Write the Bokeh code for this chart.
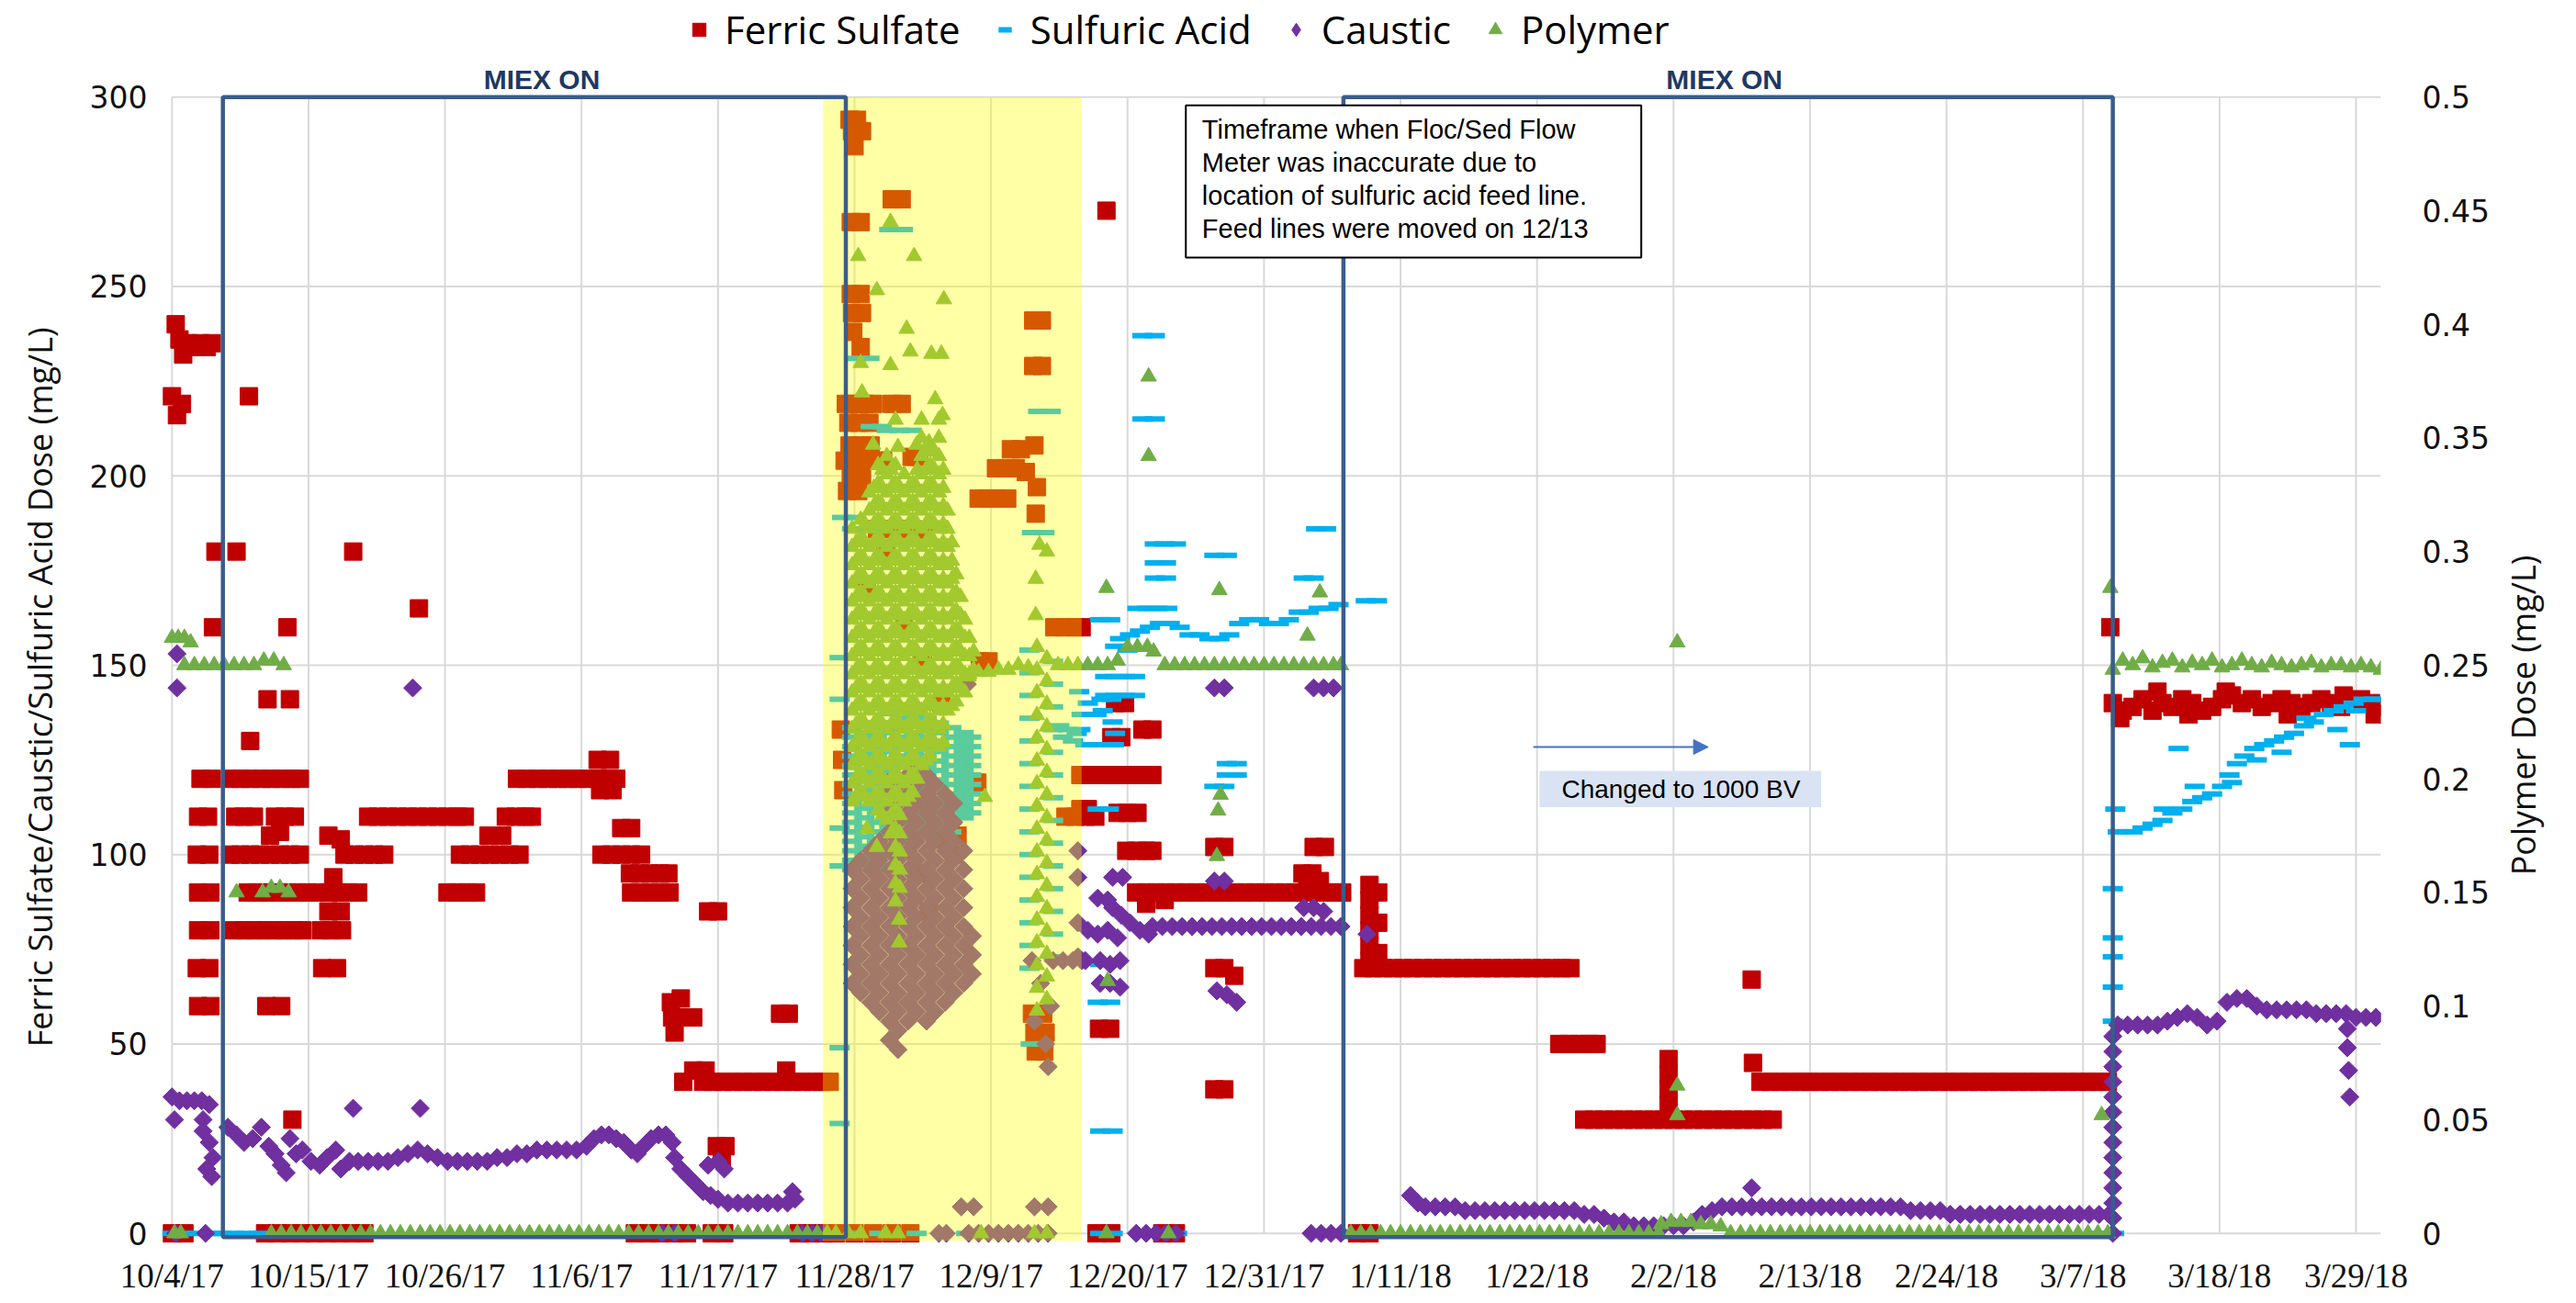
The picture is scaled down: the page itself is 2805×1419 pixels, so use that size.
import math
from bokeh.plotting import figure
from bokeh.models import (Range1d, LinearAxis, FixedTicker, BoxAnnotation, Label,
                          Legend, LegendItem, Arrow, NormalHead)
from bokeh.embed import file_html
from bokeh.resources import INLINE

# ---------------- axis ticks (x = days since 10/4/17) ----------------
X_TICK_DAYS = [0, 11, 22, 33, 44, 55, 66, 77, 88, 99, 110, 121, 132, 143, 154, 165, 176]
X_TICK_LABELS = ["10/4/17", "10/15/17", "10/26/17", "11/6/17", "11/17/17", "11/28/17",
                 "12/9/17", "12/20/17", "12/31/17", "1/11/18", "1/22/18", "2/2/18",
                 "2/13/18", "2/24/18", "3/7/18", "3/18/18", "3/29/18"]
X_END_DAY = 178.0
LEFT_TICKS = [0, 50, 100, 150, 200, 250, 300]
RIGHT_TICKS = [0, 0.05, 0.1, 0.15, 0.2, 0.25, 0.3, 0.35, 0.4, 0.45, 0.5]
RIGHT_TICK_LABELS = ["0", "0.05", "0.1", "0.15", "0.2", "0.25", "0.3", "0.35", "0.4", "0.45", "0.5"]
LEFT_TITLE = "Ferric Sulfate/Caustic/Sulfuric Acid Dose (mg/L)"
RIGHT_TITLE = "Polymer Dose (mg/L)"
LEGEND_LABELS = ["Ferric Sulfate", "Sulfuric Acid", "Caustic", "Polymer"]

# periods (days since 10/4/17)
MIEX_PERIODS = [(4.1, 54.3), (94.4, 156.4)]
MIEX_LABEL_DAYS = [29.8, 125.1]
INACCURATE_PERIOD = (52.45, 73.3)

# ---------------- Ferric sulfate (mg/L) ----------------
FERRIC_OCT = [(0.0, 221), (0.4, 216), (0.8, 219), (0.3, 240), (0.6, 236), (0.9, 232), (1.3, 235),
              (1.8, 234), (2.3, 235), (2.8, 234), (3.2, 235), (6.2, 221), (3.5, 180), (5.2, 180),
              (14.6, 180), (19.9, 165), (3.3, 160), (9.3, 160), (7.7, 141), (9.5, 141), (6.3, 130),
              (13.0, 94), (12.6, 85), (13.6, 85), (9.7, 30), (8.7, 106), (7.9, 105), (12.6, 105), (13.6, 104)]
FERRIC_RUNS = [
    (120, [2.3, 3.2, 4.7, 5.5, 6.3, 7.2, 8.0, 8.8, 9.6, 10.3, 27.8, 28.6, 29.5, 30.3, 31.1, 31.9,
           32.7, 33.5, 34.3, 35.1, 35.8]),
    (110, [2.1, 2.9, 5.1, 5.8, 6.6, 8.3, 9.1, 9.9, 15.8, 16.6, 17.4, 18.2, 19.0, 19.8, 20.6, 21.4,
           22.2, 23.0, 23.6, 26.9, 27.7, 28.5, 29.0]),
    (100, [2.0, 3.0, 4.7, 5.5, 6.3, 7.1, 7.9, 8.7, 9.5, 10.3, 13.9, 14.7, 15.5, 16.3, 17.1, 23.2,
           24.0, 24.8, 25.6, 26.4, 27.2, 28.0, 34.6, 35.4, 36.2, 37.0, 37.8]),
    (105, [25.5, 26.6]),
    (90, [2.1, 3.1, 6.1, 6.9, 7.7, 8.5, 9.3, 10.1, 10.9, 11.7, 12.6, 13.4, 14.2, 15.0, 22.2, 23.0,
          23.8, 24.5, 37.0, 37.8, 38.6, 39.4, 40.1]),
    (80, [2.1, 3.1, 5.0, 5.8, 6.6, 7.4, 8.2, 9.0, 9.8, 10.5, 12.0, 12.8, 13.7]),
    (70, [2.0, 3.0, 12.1, 13.3]),
    (60, [2.1, 3.1, 7.6, 8.8]),
    (0, [0.0, 1.0, 7.5, 8.5, 9.5, 10.5, 11.5, 12.5, 13.5, 14.5, 15.5, 37.3, 38.3, 39.3, 40.5, 41.5,
         43.5, 44.5, 50.5, 51.5, 52.5, 53.5, 55.0, 56.5, 58.0, 59.5, 74.5, 75.7, 79.8, 80.9, 95.5, 96.5]),
    (125, [34.3, 35.3]),
    (117, [34.5, 35.5]),
    (107, [36.2, 37.0]),
    (95, [36.9, 37.7, 38.5, 39.3, 40.0]),
    (40, [41.2, 42.8, 43.6, 44.4, 45.2, 46.0, 46.8, 47.6, 48.4, 49.2, 50.0, 50.8, 51.6, 52.4, 53.0,
          128.0, 128.8, 129.6, 130.4, 131.2, 132.0, 132.8, 133.6, 134.4, 135.2, 136.0, 136.8, 137.6,
          138.4, 139.2, 140.0, 140.8, 141.6, 142.4, 143.2, 144.0, 144.8, 145.6, 146.4, 147.2, 148.0,
          148.8, 149.6, 150.4, 151.2, 152.0, 152.8, 153.6, 154.4, 155.2, 156.0]),
    (43, [42.0, 43.0, 49.5]),
    (90, [77.7, 78.5, 79.3, 80.1, 80.9, 81.7, 82.5, 83.3, 84.1, 84.9, 85.7, 86.5, 87.3, 88.1, 88.9,
          89.7, 90.5, 91.3, 92.1, 92.9, 93.7, 94.3]),
    (70, [96.0, 96.8, 97.6, 98.4, 99.2, 100.0, 100.8, 101.6, 102.4, 103.2, 104.0, 104.8, 105.6, 106.4,
          107.2, 108.0, 108.8, 109.6, 110.4, 111.2, 112.0, 112.7]),
    (50, [111.8, 112.6, 113.4, 114.2, 114.8]),
    (30, [113.8, 114.6, 115.4, 116.2, 117.0, 117.8, 118.6, 119.4, 120.2, 121.0, 121.8, 122.6, 123.4,
          124.2, 125.0, 125.8, 126.6, 127.4, 128.2, 129.0]),
]
FERRIC_NOV = [(40.2, 61), (41.0, 62), (40.3, 57), (41.2, 57), (42.0, 57), (40.5, 53), (49.0, 58),
              (49.7, 58), (43.2, 85), (44.0, 85), (43.9, 23), (44.6, 23), (44.3, 20)]
FERRIC_DEC = [(54.6, 294), (55.2, 294), (54.8, 291), (55.6, 291), (55.0, 287), (54.7, 267), (55.5, 267),
              (58.0, 273), (58.8, 273), (54.7, 248), (55.5, 248), (54.8, 243), (55.6, 243), (54.9, 238),
              (55.5, 234), (54.3, 219), (55.0, 219), (55.8, 219), (56.5, 219), (58.0, 219), (58.8, 219),
              (54.5, 214), (55.4, 214), (56.2, 214), (54.6, 208), (55.5, 208), (56.3, 208), (54.2, 204),
              (55.0, 204), (55.9, 204), (56.7, 204), (57.3, 204), (59.6, 205), (60.2, 205), (54.7, 200),
              (55.6, 200), (54.4, 196), (55.3, 196), (65.0, 194), (65.7, 194), (66.5, 194), (67.3, 194),
              (66.4, 202), (67.2, 202), (68.0, 202), (68.8, 201), (67.6, 207), (68.4, 207), (69.4, 241),
              (70.1, 241), (69.4, 229), (70.1, 229), (69.5, 208), (69.7, 197), (69.6, 190), (71.1, 160),
              (71.9, 160), (72.7, 160), (73.3, 160), (65.1, 151), (65.8, 151), (64.4, 119), (64.9, 119),
              (62.0, 113), (62.8, 113), (62.4, 105), (63.3, 105), (72.0, 110), (72.8, 110), (73.6, 110),
              (74.4, 110), (69.3, 58), (70.2, 58), (69.5, 53), (70.4, 53), (69.6, 48), (70.3, 48),
              (53.9, 133), (54.0, 125), (54.1, 117), (56.8, 186), (58.2, 186), (59.6, 186), (60.6, 184),
              (62.0, 104), (56.0, 170), (57.5, 180), (59.0, 160), (60.5, 150), (62.0, 140), (58.0, 120),
              (60.0, 95), (61.0, 85), (63.0, 100)]
FERRIC_JAN = [(75.3, 270), (76.0, 140), (76.8, 140), (78.2, 133), (79.0, 133), (75.7, 131), (76.5, 131),
              (73.2, 121), (74.0, 121), (74.8, 121), (75.6, 121), (76.4, 121), (77.0, 121), (78.2, 121),
              (79.0, 121), (73.2, 112), (73.8, 112), (76.2, 111), (77.0, 111), (77.8, 111), (76.9, 101),
              (77.7, 101), (78.5, 101), (79.0, 101), (84.0, 102), (84.8, 102), (92.0, 102), (92.9, 102),
              (91.1, 95), (91.9, 95), (78.5, 87), (80.0, 88), (91.5, 93), (92.5, 93), (84.0, 70),
              (84.8, 70), (85.6, 68), (74.7, 54), (75.6, 54), (84.0, 38), (84.8, 38)]
FERRIC_MAR = [(96.5, 92), (96.5, 88), (96.5, 84), (96.5, 80), (96.5, 76), (96.5, 72), (97.2, 90),
              (97.2, 82), (97.2, 74), (120.6, 46), (120.6, 42), (120.6, 38), (120.6, 34), (127.3, 67),
              (127.4, 45), (156.2, 160), (156.4, 140), (157.2, 138), (158.0, 139), (158.8, 141),
              (159.6, 138), (160.4, 140), (161.2, 139), (162.0, 141), (162.8, 140), (163.6, 138),
              (164.4, 139), (165.2, 141), (166.0, 142), (166.8, 140), (167.6, 141), (168.4, 139),
              (169.2, 140), (170.0, 141), (170.8, 140), (171.6, 139), (172.4, 140), (173.2, 141),
              (174.0, 140), (174.8, 139), (175.6, 140), (176.4, 141), (177.2, 140), (178.0, 139),
              (157.0, 136), (160.0, 143), (162.5, 137), (165.5, 143), (170.5, 137), (175.0, 142), (177.5, 137)]

# ---------------- Sulfuric acid (mg/L) ----------------
SULF_POINTS = [(0.0, 0), (1.0, 0), (2.0, 0), (3.0, 0), (4.0, 0), (5.0, 0), (6.0, 0), (7.0, 0),
               (57.8, 265), (58.9, 265), (55.2, 231), (56.2, 231), (56.3, 213), (57.2, 213), (57.6, 212),
               (58.6, 212), (59.6, 212), (57.2, 197), (58.2, 197), (59.2, 197), (60.0, 197), (54.0, 189),
               (55.0, 189), (54.8, 186), (55.8, 186), (56.4, 186), (53.8, 152), (53.8, 141), (53.8, 107),
               (53.8, 97), (53.8, 49), (53.8, 29), (69.8, 217), (70.8, 217), (69.3, 185), (70.3, 185),
               (71.5, 134), (72.2, 133), (72.9, 132), (71.8, 131), (72.6, 130), (69.2, 50), (70.1, 50),
               (55.0, 0), (57.0, 0), (60.0, 0), (64.0, 0), (69.0, 0),
               (74.8, 162), (75.6, 162), (74.9, 141), (75.7, 141), (73.6, 129), (74.4, 129), (75.2, 129),
               (75.9, 129), (74.6, 112), (75.5, 112), (73.1, 143), (73.3, 137), (73.8, 140), (74.5, 137),
               (74.8, 27), (75.8, 27), (74.8, 71), (75.6, 71), (74.6, 61), (75.6, 61), (78.2, 237),
               (79.2, 237), (78.2, 215), (79.2, 215), (79.2, 182), (80.0, 182), (80.9, 182), (79.2, 177),
               (80.1, 177), (79.2, 173), (80.1, 173), (77.8, 165), (78.6, 165), (79.4, 165), (80.2, 165),
               (84.0, 179), (85.0, 179), (92.2, 186), (93.0, 186), (91.2, 173), (92.0, 173), (96.2, 167),
               (97.1, 167), (84.0, 118), (84.8, 118), (85.0, 124), (85.8, 124), (85.0, 121), (85.8, 121),
               (75.2, 147), (76.0, 147), (76.8, 147), (77.6, 147), (75.2, 142), (76.0, 142), (76.8, 142),
               (77.6, 142), (75.0, 138), (75.8, 135), (73.2, 133), (76.0, 132), (76.0, 155), (77.0, 154),
               (76.4, 157), (77.2, 158), (78.0, 159), (78.8, 160), (79.6, 161), (80.4, 161), (81.2, 160),
               (82.0, 158), (82.8, 158), (83.6, 157), (84.4, 157), (85.2, 158), (86.0, 161), (86.8, 162),
               (87.6, 162), (88.4, 161), (89.2, 161), (90.0, 162), (90.8, 164), (91.6, 164), (92.4, 165),
               (93.2, 165), (94.0, 166), (74.8, 0), (75.8, 0), (78.0, 0), (79.0, 0), (80.0, 0), (81.0, 0),
               (95.5, 0), (155.5, 0), (156.5, 0), (156.4, 91), (156.4, 78), (156.4, 73), (156.4, 65),
               (156.4, 56), (156.6, 112), (156.8, 106), (157.2, 106), (158.0, 106), (158.8, 107),
               (159.6, 108), (160.4, 109), (161.2, 111), (162.0, 112), (162.8, 114), (163.6, 115),
               (164.4, 116), (165.2, 118), (165.8, 121), (166.4, 124), (167.0, 126), (167.8, 128),
               (168.6, 129), (169.4, 130), (170.2, 131), (171.0, 132), (171.8, 134), (172.6, 135),
               (173.4, 137), (174.2, 138), (175.0, 139), (175.8, 140), (176.6, 141), (177.4, 141),
               (178.2, 141), (161.7, 128), (170.0, 127), (172.0, 136), (174.5, 133), (175.5, 129),
               (176.0, 138), (160.5, 112), (163.0, 118), (166.0, 119), (168.0, 125)]
SULF_CLOUD = {
    54.8: [96, 98.5, 101, 103.5, 106, 108.5, 111, 113.5, 116, 118.5, 121, 123.5, 126, 128.5, 131, 133.5],
    55.8: [97.2, 99.7, 102.2, 104.7, 107.2, 109.7, 112.2, 114.7, 117.2, 119.7, 122.2, 124.7, 127.2, 129.7, 132.2, 134.7],
    56.8: [96, 98.5, 101, 103.5, 106, 108.5, 111, 113.5, 116, 118.5, 121, 123.5, 126, 128.5, 131, 133.5],
    57.8: [97.2, 99.7, 102.2, 104.7, 107.2, 109.7, 112.2, 114.7, 117.2, 119.7, 122.2, 124.7, 127.2, 129.7, 132.2, 134.7, 137.2],
    58.8: [101, 103.5, 106, 108.5, 111, 113.5, 116, 118.5, 121, 123.5, 126, 128.5, 131, 133.5, 136, 138.5],
    59.8: [104.7, 107.2, 109.7, 112.2, 114.7, 117.2, 119.7, 122.2, 124.7, 127.2, 129.7, 132.2, 134.7, 137.2],
    60.8: [106, 108.5, 111, 113.5, 116, 118.5, 121, 123.5, 126, 128.5, 131, 133.5, 136],
    61.8: [107.2, 109.7, 112.2, 114.7, 117.2, 119.7, 122.2, 124.7, 127.2, 129.7, 132.2, 134.7],
    62.8: [106, 108.5, 111, 113.5, 116, 118.5, 121, 123.5, 126, 128.5, 131, 133.5],
    63.8: [109.7, 112.2, 114.7, 117.2, 119.7, 122.2, 124.7, 127.2, 129.7, 132.2],
    64.4: [111, 113.5, 116, 118.5, 121, 123.5, 126, 128.5, 131],
    69.1: [70, 76, 82, 88, 94, 100, 106, 112, 118, 124, 130, 136, 142, 148, 154],
    71.0: [73, 79, 85, 91, 97, 103, 109, 115, 121, 127, 133, 139, 145, 151],
}

# ---------------- Caustic (mg/L) ----------------
CAUSTIC_POINTS = [(0.4, 153), (0.4, 144), (19.4, 144), (0.0, 36), (0.6, 35), (1.2, 35), (1.8, 35), (2.4, 35),
                  (3.0, 34), (0.2, 30), (2.5, 30), (2.5, 27), (3.0, 24), (3.3, 20), (2.8, 17), (3.2, 15),
                  (4.5, 28), (5.2, 26), (5.8, 24), (6.5, 25), (7.2, 28), (7.8, 23), (8.3, 21), (8.8, 18),
                  (9.2, 16), (9.5, 25), (10.0, 21), (10.5, 22), (11.2, 19), (11.9, 18), (12.5, 20), (13.2, 22),
                  (13.6, 17), (14.3, 19), (15.0, 19), (15.8, 19), (16.6, 19), (17.4, 19), (18.2, 20), (19.0, 21),
                  (19.8, 22), (20.6, 21), (21.4, 20), (22.2, 19), (23.0, 19), (23.8, 19), (24.6, 19), (25.4, 19),
                  (26.2, 20), (27.0, 20), (27.8, 21), (28.6, 21), (14.6, 33), (20.0, 33), (0.3, 0), (2.7, 0),
                  (29.4, 22), (30.2, 22), (31.0, 22), (31.8, 22), (32.6, 22), (33.4, 23), (34.0, 25), (34.6, 26),
                  (35.2, 26), (35.8, 25), (36.4, 24), (37.0, 22), (37.5, 21), (38.0, 23), (38.6, 25), (39.2, 26),
                  (39.8, 26), (40.3, 24), (40.5, 20), (41.0, 17), (41.6, 15), (42.2, 13), (42.8, 11), (43.4, 10),
                  (44.0, 9), (44.8, 8), (45.6, 8), (46.4, 8), (47.2, 8), (48.0, 8), (48.8, 8), (49.6, 8),
                  (50.2, 9), (50.0, 11), (43.2, 18), (44.0, 19), (44.5, 17), (39.5, 0), (40.5, 0), (50.8, 0),
                  (51.6, 0), (52.3, 0),
                  (64.1, 145), (69.3, 72), (70.0, 66), (70.8, 60), (69.5, 56), (70.4, 50), (70.6, 44),
                  (71.0, 72), (71.8, 72), (72.6, 72), (73.3, 72), (63.6, 7), (64.6, 7), (69.5, 7), (70.6, 7),
                  (61.8, 0), (62.4, 0), (64.2, 0), (65.0, 0), (65.8, 0), (66.6, 0), (67.4, 0), (68.2, 0),
                  (69.0, 0), (69.8, 0), (70.6, 0),
                  (73.0, 101), (73.0, 94), (75.8, 94), (76.6, 94), (84.0, 93), (84.8, 93), (74.6, 88.5),
                  (75.4, 88), (75.8, 86), (76.5, 84), (77.2, 82), (78.0, 80), (78.7, 79), (79.0, 81), (79.8, 81),
                  (80.6, 81), (81.4, 81), (82.2, 81), (83.0, 81), (83.8, 81), (84.6, 81), (85.4, 81), (86.2, 81),
                  (87.0, 81), (87.8, 81), (88.6, 81), (89.4, 81), (90.2, 81), (91.0, 81), (91.8, 81), (92.6, 81),
                  (93.4, 81), (94.2, 81), (91.2, 86), (92.0, 86), (92.8, 85), (73.0, 82), (73.8, 80), (74.6, 79),
                  (75.4, 80), (76.2, 78), (73.0, 73), (73.6, 72), (74.8, 72), (75.6, 71), (76.4, 72), (74.8, 66),
                  (75.6, 66), (76.4, 65), (84.2, 64), (85.0, 63), (85.8, 61), (84.0, 144), (84.8, 144),
                  (92.0, 144), (92.8, 144), (93.6, 144), (77.7, 0), (78.5, 0), (79.3, 0), (80.1, 0), (80.9, 0),
                  (91.8, 0), (92.6, 0), (93.4, 0), (94.2, 0),
                  (96.3, 79), (99.8, 10), (100.4, 8), (101.0, 7), (101.8, 7), (102.6, 7), (103.4, 7), (104.2, 6),
                  (105.0, 6), (105.8, 6), (106.6, 6), (107.4, 6), (108.2, 6), (109.0, 6), (109.8, 6), (110.6, 6),
                  (111.4, 6), (112.2, 6), (113.0, 6), (113.8, 5), (114.6, 5), (115.4, 4), (116.2, 3), (117.0, 3),
                  (117.8, 2), (118.6, 2), (119.4, 2), (120.2, 2), (121.0, 2), (121.8, 2), (122.6, 3), (123.3, 5),
                  (124.1, 6), (124.9, 7), (125.7, 7), (126.5, 7), (127.3, 7), (128.1, 7), (128.9, 7), (129.7, 7),
                  (130.5, 7), (131.3, 7), (132.1, 7), (132.9, 7), (133.7, 7), (134.5, 7), (135.3, 7), (136.1, 7),
                  (136.9, 7), (137.7, 7), (138.5, 7), (139.3, 7), (140.1, 6), (140.9, 6), (141.7, 6), (142.5, 6),
                  (143.3, 5), (144.1, 5), (144.9, 5), (145.7, 5), (146.5, 5), (147.3, 5), (148.1, 5), (148.9, 5),
                  (149.7, 5), (150.5, 5), (151.3, 5), (152.1, 5), (152.9, 5), (153.7, 5), (154.5, 5), (155.3, 5),
                  (156.1, 5), (127.3, 12),
                  (156.4, 0), (156.4, 4), (156.4, 8), (156.4, 12), (156.4, 16), (156.4, 20), (156.4, 24),
                  (156.4, 28), (156.4, 32), (156.4, 36), (156.4, 40), (156.4, 44), (156.4, 48), (156.4, 52),
                  (156.8, 55), (157.6, 55), (158.4, 55), (159.2, 55), (160.0, 55), (160.8, 56), (161.6, 57),
                  (162.4, 58), (163.2, 57), (164.0, 55), (164.8, 56), (165.6, 61), (166.4, 62), (167.2, 62),
                  (168.0, 60), (168.8, 59), (169.6, 59), (170.4, 59), (171.2, 59), (172.0, 59), (172.8, 58),
                  (173.6, 58), (174.4, 58), (175.2, 58), (176.0, 57), (176.8, 57), (177.6, 57), (178.4, 57),
                  (175.3, 54), (175.3, 49), (175.4, 43), (175.5, 36)]
CAUSTIC_CLOUD = {
    54.8: [96, 91, 86, 81, 76, 71, 66],
    55.5: [98.5, 93.5, 88.5, 83.5, 78.5, 73.5, 68.5, 63.5],
    56.3: [101, 96, 91, 86, 81, 76, 71, 66, 61],
    57.0: [103.5, 98.5, 93.5, 88.5, 83.5, 78.5, 73.5, 68.5, 63.5, 58.5],
    57.8: [116, 111, 106, 101, 96, 91, 86, 81, 76, 71, 66, 61, 56, 51],
    58.5: [118.5, 113.5, 108.5, 103.5, 98.5, 93.5, 88.5, 83.5, 78.5, 73.5, 68.5, 63.5, 58.5, 53.5, 48.5],
    59.3: [121, 116, 111, 106, 101, 96, 91, 86, 81, 76, 71, 66, 61, 56],
    60.0: [123.5, 118.5, 113.5, 108.5, 103.5, 98.5, 93.5, 88.5, 83.5, 78.5, 73.5, 68.5, 63.5, 58.5],
    60.8: [121, 116, 111, 106, 101, 96, 91, 86, 81, 76, 71, 66, 61, 56],
    61.5: [118.5, 113.5, 108.5, 103.5, 98.5, 93.5, 88.5, 83.5, 78.5, 73.5, 68.5, 63.5, 58.5],
    62.3: [116, 111, 106, 101, 96, 91, 86, 81, 76, 71, 66, 61],
    63.0: [113.5, 108.5, 103.5, 98.5, 93.5, 88.5, 83.5, 78.5, 73.5, 68.5, 63.5],
    63.8: [101, 96, 91, 86, 81, 76, 71, 66],
    64.5: [78.5, 73.5, 68.5],
}

# ---------------- Polymer (mg/L, right axis) ----------------
POLY_POINTS = [(0.0, 0.262), (0.5, 0.262), (1.0, 0.262), (1.5, 0.26), (1.0, 0.25), (1.8, 0.25), (2.6, 0.25),
               (3.4, 0.25), (4.2, 0.25), (5.0, 0.25), (5.8, 0.25), (6.6, 0.25), (7.4, 0.252), (8.2, 0.252),
               (9.0, 0.25), (5.2, 0.15), (7.3, 0.15), (8.0, 0.152), (8.7, 0.152), (9.4, 0.15), (0.2, 0), (0.7, 0),
               (55.3, 0.43), (59.8, 0.43), (57.9, 0.445), (56.8, 0.415), (62.2, 0.411), (59.2, 0.398),
               (59.5, 0.388), (57.9, 0.382), (61.2, 0.387), (62.0, 0.387), (55.5, 0.383), (55.6, 0.37),
               (61.5, 0.367), (62.1, 0.36), (58.3, 0.358), (56.5, 0.347), (58.5, 0.346), (60.0, 0.347),
               (61.0, 0.348), (58.6, 0.138), (58.6, 0.128), (65.5, 0.192), (56.0, 0.178), (56.8, 0.17),
               (57.6, 0.342), (57.95, 0.336), (58.3, 0.338), (58.65, 0.328), (59.0, 0.334), (59.35, 0.328),
               (59.7, 0.33), (60.05, 0.336), (60.4, 0.35), (60.75, 0.344), (61.1, 0.346), (61.45, 0.344),
               (61.8, 0.35), (62.15, 0.336), (60.4, 0.358), (61.8, 0.358), (56.9, 0.338), (57.25, 0.336),
               (56.2, 0.326), (56.55, 0.328), (64.25, 0.262), (64.25, 0.254), (64.25, 0.246), (64.6, 0.256),
               (64.6, 0.248),
               (69.9, 0.303), (70.5, 0.3), (69.6, 0.288), (69.6, 0.272), (64.2, 0.245), (65.0, 0.247),
               (65.8, 0.247), (66.6, 0.248), (67.4, 0.248), (68.2, 0.25), (69.0, 0.249), (71.4, 0.25),
               (72.2, 0.25), (73.0, 0.25), (73.8, 0.25), (74.6, 0.25), (75.4, 0.25), (76.2, 0.252),
               (53.5, 0), (54.5, 0), (55.5, 0), (57.5, 0), (58.5, 0), (65.2, 0), (69.5, 0), (70.5, 0),
               (77.0, 0.258), (77.8, 0.258), (78.6, 0.258), (79.1, 0.256), (80.0, 0.25), (80.8, 0.25),
               (81.6, 0.25), (82.4, 0.25), (83.2, 0.25), (84.0, 0.25), (84.8, 0.25), (85.6, 0.25), (86.4, 0.25),
               (87.2, 0.25), (88.0, 0.25), (88.8, 0.25), (89.6, 0.25), (90.4, 0.25), (91.2, 0.25), (92.0, 0.25),
               (92.8, 0.25), (93.6, 0.25), (94.2, 0.25), (75.3, 0.284), (84.4, 0.283), (92.5, 0.282),
               (91.5, 0.263), (78.7, 0.377), (78.7, 0.342), (84.5, 0.193), (84.3, 0.186), (84.2, 0.166),
               (75.4, 0.111), (75.3, 0), (80.3, 0), (121.3, 0.26), (121.3, 0.065), (121.3, 0.052),
               (155.5, 0.052), (156.2, 0.284), (120.0, 0.004), (120.8, 0.005), (121.6, 0.005), (122.4, 0.005),
               (123.2, 0.004), (124.0, 0.004), (124.8, 0.003),
               (156.4, 0.248), (157.2, 0.252), (158.0, 0.25), (158.8, 0.253), (159.6, 0.249), (160.4, 0.251),
               (161.2, 0.252), (162.0, 0.249), (162.8, 0.251), (163.6, 0.25), (164.4, 0.252), (165.2, 0.249),
               (166.0, 0.25), (166.8, 0.252), (167.6, 0.25), (168.4, 0.249), (169.2, 0.251), (170.0, 0.25),
               (170.8, 0.249), (171.6, 0.25), (172.4, 0.251), (173.2, 0.249), (174.0, 0.25), (174.8, 0.25),
               (175.6, 0.249), (176.4, 0.25), (177.2, 0.249), (178.0, 0.248)]
POLY_ZERO_DAYS = [8.0, 8.8, 9.6, 10.4, 11.2, 12.0, 12.8, 13.6, 14.4, 15.2, 16.0, 16.8, 17.6, 18.4, 19.2, 20.0,
                  20.8, 21.6, 22.4, 23.2, 24.0, 24.8, 25.6, 26.4, 27.2, 28.0, 28.8, 29.6, 30.4, 31.2, 32.0,
                  32.8, 33.6, 34.4, 35.2, 36.0, 36.8, 37.6, 38.4, 39.2, 40.0, 40.8, 41.6, 42.4, 43.2, 44.0,
                  44.8, 45.6, 46.4, 47.2, 48.0, 48.8, 49.6, 50.4, 51.2, 52.0, 52.8,
                  95.0, 95.8, 96.6, 97.4, 98.2, 99.0, 99.8, 100.6, 101.4, 102.2, 103.0, 103.8, 104.6, 105.4,
                  106.2, 107.0, 107.8, 108.6, 109.4, 110.2, 111.0, 111.8, 112.6, 113.4, 114.2, 115.0, 115.8,
                  116.6, 117.4, 118.2, 119.0, 119.8, 125.6, 126.4, 127.2, 128.0, 128.8, 129.6, 130.4, 131.2,
                  132.0, 132.8, 133.6, 134.4, 135.2, 136.0, 136.8, 137.6, 138.4, 139.2, 140.0, 140.8, 141.6,
                  142.4, 143.2, 144.0, 144.8, 145.6, 146.4, 147.2, 148.0, 148.8, 149.6, 150.4, 151.2, 152.0,
                  152.8, 153.6, 154.4, 155.2, 156.0]
POLY_CLOUD = {
    54.8: [0.310, 0.302, 0.294, 0.286, 0.278, 0.270, 0.262, 0.254, 0.246, 0.238, 0.230, 0.222, 0.214, 0.206, 0.198, 0.190],
    55.15: [0.304, 0.296, 0.288, 0.280, 0.272, 0.264, 0.256, 0.248, 0.240, 0.232, 0.224, 0.216, 0.208, 0.200, 0.192],
    55.5: [0.314, 0.306, 0.298, 0.290, 0.282, 0.274, 0.266, 0.258, 0.250, 0.242, 0.234, 0.226, 0.218, 0.210, 0.202, 0.194],
    55.85: [0.312, 0.304, 0.296, 0.288, 0.280, 0.272, 0.264, 0.256, 0.248, 0.240, 0.232, 0.224, 0.216, 0.208, 0.200, 0.192],
    56.2: [0.318, 0.310, 0.302, 0.294, 0.286, 0.278, 0.270, 0.262, 0.254, 0.246, 0.238, 0.230, 0.222, 0.214, 0.206, 0.198, 0.190],
    56.55: [0.320, 0.312, 0.304, 0.296, 0.288, 0.280, 0.272, 0.264, 0.256, 0.248, 0.240, 0.232, 0.224, 0.216, 0.208, 0.200, 0.192],
    56.9: [0.330, 0.322, 0.314, 0.306, 0.298, 0.290, 0.282, 0.274, 0.266, 0.258, 0.250, 0.242, 0.234, 0.226, 0.218, 0.210, 0.202, 0.194, 0.186],
    57.25: [0.328, 0.320, 0.312, 0.304, 0.296, 0.288, 0.280, 0.272, 0.264, 0.256, 0.248, 0.240, 0.232, 0.224, 0.216, 0.208, 0.200, 0.192, 0.184],
    57.6: [0.334, 0.326, 0.318, 0.310, 0.302, 0.294, 0.286, 0.278, 0.270, 0.262, 0.254, 0.246, 0.238, 0.230, 0.222, 0.214, 0.206, 0.198, 0.190, 0.182],
    57.95: [0.328, 0.320, 0.312, 0.304, 0.296, 0.288, 0.280, 0.272, 0.264, 0.256, 0.248, 0.240, 0.232, 0.224, 0.216, 0.208, 0.200, 0.192, 0.184, 0.176],
    58.3: [0.330, 0.322, 0.314, 0.306, 0.298, 0.290, 0.282, 0.274, 0.266, 0.258, 0.250, 0.242, 0.234, 0.226, 0.218, 0.210, 0.202, 0.194, 0.186, 0.178, 0.170, 0.162, 0.154, 0.146],
    58.65: [0.320, 0.312, 0.304, 0.296, 0.288, 0.280, 0.272, 0.264, 0.256, 0.248, 0.240, 0.232, 0.224, 0.216, 0.208, 0.200, 0.192, 0.184, 0.176, 0.168, 0.160, 0.152],
    59.0: [0.326, 0.318, 0.310, 0.302, 0.294, 0.286, 0.278, 0.270, 0.262, 0.254, 0.246, 0.238, 0.230, 0.222, 0.214, 0.206, 0.198, 0.190],
    59.35: [0.320, 0.312, 0.304, 0.296, 0.288, 0.280, 0.272, 0.264, 0.256, 0.248, 0.240, 0.232, 0.224, 0.216, 0.208, 0.200, 0.192],
    59.7: [0.322, 0.314, 0.306, 0.298, 0.290, 0.282, 0.274, 0.266, 0.258, 0.250, 0.242, 0.234, 0.226, 0.218, 0.210, 0.202, 0.194],
    60.05: [0.328, 0.320, 0.312, 0.304, 0.296, 0.288, 0.280, 0.272, 0.264, 0.256, 0.248, 0.240, 0.232, 0.224, 0.216, 0.208, 0.200],
    60.4: [0.342, 0.334, 0.326, 0.318, 0.310, 0.302, 0.294, 0.286, 0.278, 0.270, 0.262, 0.254, 0.246, 0.238, 0.230, 0.222, 0.214, 0.206],
    60.75: [0.336, 0.328, 0.320, 0.312, 0.304, 0.296, 0.288, 0.280, 0.272, 0.264, 0.256, 0.248, 0.240, 0.232, 0.224, 0.216, 0.208],
    61.1: [0.338, 0.330, 0.322, 0.314, 0.306, 0.298, 0.290, 0.282, 0.274, 0.266, 0.258, 0.250, 0.242, 0.234, 0.226, 0.218, 0.210],
    61.45: [0.336, 0.328, 0.320, 0.312, 0.304, 0.296, 0.288, 0.280, 0.272, 0.264, 0.256, 0.248, 0.240, 0.232, 0.224, 0.216],
    61.8: [0.342, 0.334, 0.326, 0.318, 0.310, 0.302, 0.294, 0.286, 0.278, 0.270, 0.262, 0.254, 0.246, 0.238, 0.230, 0.222, 0.214],
    62.15: [0.328, 0.320, 0.312, 0.304, 0.296, 0.288, 0.280, 0.272, 0.264, 0.256, 0.248, 0.240, 0.232, 0.224, 0.216],
    62.5: [0.318, 0.310, 0.302, 0.294, 0.286, 0.278, 0.270, 0.262, 0.254, 0.246, 0.238, 0.230],
    62.85: [0.304, 0.296, 0.288, 0.280, 0.272, 0.264, 0.256, 0.248, 0.240, 0.232],
    63.2: [0.290, 0.282, 0.274, 0.266, 0.258, 0.250, 0.242, 0.234],
    63.55: [0.280, 0.272, 0.264, 0.256, 0.248, 0.240],
    63.9: [0.270, 0.262, 0.254, 0.246, 0.238],
    69.7: [0.258, 0.248, 0.238, 0.228, 0.218, 0.208, 0.198, 0.188, 0.178, 0.168, 0.158, 0.148, 0.138, 0.128, 0.118, 0.108, 0.098],
    70.5: [0.253, 0.243, 0.233, 0.223, 0.213, 0.203, 0.193, 0.183, 0.173, 0.163, 0.153, 0.143, 0.133, 0.123, 0.113, 0.103],
}

# ---------------- colours ----------------
C_FERRIC = "#C00000"
C_SULF = "#00B0F0"
C_CAUSTIC = "#7030A0"
C_POLY = "#70AD47"
C_MIEX = "#3A5C8C"
C_GRID = "#D9D9D9"


def from_pairs(*lists):
    xs, ys = [], []
    for lst in lists:
        for d, v in lst:
            xs.append(d)
            ys.append(v)
    return xs, ys


def from_runs(runs):
    return [(d, val) for val, days in runs for d in days]


def from_cloud(cloud):
    return [(d, v) for d, vals in cloud.items() for v in vals]


fx, fy = from_pairs(FERRIC_OCT, from_runs(FERRIC_RUNS), FERRIC_NOV, FERRIC_DEC, FERRIC_JAN, FERRIC_MAR)
sx, sy = from_pairs(SULF_POINTS, from_cloud(SULF_CLOUD))
cx, cy = from_pairs(CAUSTIC_POINTS, from_cloud(CAUSTIC_CLOUD))
px_, py_ = from_pairs(POLY_POINTS, [(d, 0) for d in POLY_ZERO_DAYS], from_cloud(POLY_CLOUD))

# frame spans the whole height of the page so the legend and captions above the grid stay visible
Y_TOP = 325.5
p = figure(frame_width=2416, frame_height=1355,
           x_range=Range1d(-0.8, X_END_DAY), y_range=Range1d(-3, Y_TOP),
           output_backend="svg", toolbar_location=None,
           min_border_left=176, min_border_right=197, min_border_top=0, min_border_bottom=50,
           background_fill_color="white", border_fill_color="white")
p.outline_line_color = None
p.extra_y_ranges = {"poly": Range1d(-0.005, Y_TOP / 600)}
p.xgrid.visible = False
p.ygrid.visible = False

TICK_FONT = "DejaVu Sans"
TEXT_COLOR = "#111111"


def plain(ax):
    ax.axis_line_color = None
    ax.major_tick_line_color = None
    ax.minor_tick_line_color = None
    ax.major_tick_out = 0
    ax.major_tick_in = 0
    ax.minor_tick_out = 0
    ax.minor_tick_in = 0
    ax.major_label_text_color = TEXT_COLOR
    ax.axis_label_text_color = TEXT_COLOR


# bottom axis
xa = p.xaxis[0]
xa.ticker = FixedTicker(ticks=X_TICK_DAYS)
xa.major_label_overrides = dict(zip(X_TICK_DAYS, X_TICK_LABELS))
xa.major_label_text_font = "Liberation Sans Narrow"
xa.major_label_text_font_size = "37px"
xa.major_label_standoff = 13
plain(xa)

# left axis
ya = p.yaxis[0]
ya.ticker = FixedTicker(ticks=LEFT_TICKS)
ya.major_label_text_font = TICK_FONT
ya.major_label_text_font_size = "33px"
ya.major_label_standoff = 16
plain(ya)

# left title, as the single label of an outer axis (centred on its tick, reads bottom to top)
LEFT_TITLE_CENTER = 144.2
lt = LinearAxis(ticker=FixedTicker(ticks=[LEFT_TITLE_CENTER]),
                major_label_overrides={LEFT_TITLE_CENTER: LEFT_TITLE})
plain(lt)
lt.major_label_orientation = "vertical"
lt.major_label_text_font = "Open Sans"
lt.major_label_text_font_size = "36px"
lt.major_label_standoff = 26
p.add_layout(lt, "left")

# right axis (polymer)
ry = LinearAxis(y_range_name="poly", ticker=FixedTicker(ticks=RIGHT_TICKS),
                major_label_overrides=dict(zip(RIGHT_TICKS, RIGHT_TICK_LABELS)))
ry.major_label_text_font = TICK_FONT
ry.major_label_text_font_size = "33px"
ry.major_label_standoff = 45
plain(ry)
p.add_layout(ry, "right")

# right title, as the single label of an outer axis (starts at its tick, reads bottom to top)
RIGHT_TITLE_START = 0.1575
rt = LinearAxis(y_range_name="poly", ticker=FixedTicker(ticks=[RIGHT_TITLE_START]),
                major_label_overrides={RIGHT_TITLE_START: RIGHT_TITLE})
plain(rt)
rt.major_label_orientation = math.pi / 2
rt.major_label_text_font = "Open Sans"
rt.major_label_text_font_size = "36px"
rt.major_label_standoff = 34
p.add_layout(rt, "right")

# grid lines (only over the 0-300 plot area)
n = len(X_TICK_DAYS)
p.segment(x0=X_TICK_DAYS, y0=[LEFT_TICKS[0]] * n, x1=X_TICK_DAYS, y1=[LEFT_TICKS[-1]] * n,
          line_color=C_GRID, line_width=2)
m = len(LEFT_TICKS)
p.segment(x0=[X_TICK_DAYS[0]] * m, y0=LEFT_TICKS, x1=[X_END_DAY] * m, y1=LEFT_TICKS,
          line_color=C_GRID, line_width=2)

# data
r_f = p.scatter(fx, fy, marker="square", size=19, fill_color=C_FERRIC, line_color=C_FERRIC, line_width=1)
r_s = p.scatter(sx, sy, marker="dash", size=22, line_color=C_SULF, line_width=6)
r_c = p.scatter(cx, cy, marker="square", angle=math.pi / 4, size=14, fill_color=C_CAUSTIC,
                line_color=C_CAUSTIC, line_width=1)
r_p = p.scatter(px_, py_, marker="triangle", size=17, fill_color=C_POLY, line_color=C_POLY,
                line_width=1, y_range_name="poly")
# legend-only glyph for the caustic diamond (a single undrawn NaN point)
r_c_leg = p.scatter([float("nan")], [float("nan")], marker="diamond", size=20,
                    fill_color=C_CAUSTIC, line_color=C_CAUSTIC)

# inaccurate-meter highlight (semi transparent, over the data)
p.add_layout(BoxAnnotation(left=INACCURATE_PERIOD[0], right=INACCURATE_PERIOD[1], top=300, bottom=-2,
                           fill_color="#FFFF00", fill_alpha=0.35, line_color=None, line_alpha=0))
# MIEX ON boxes and captions
for (a, b), d in zip(MIEX_PERIODS, MIEX_LABEL_DAYS):
    p.add_layout(BoxAnnotation(left=a, right=b, top=300, bottom=-1, fill_alpha=0, fill_color=None,
                               line_color=C_MIEX, line_alpha=1, line_width=4.5))
    p.add_layout(Label(x=d, y=304.6, text="MIEX ON", text_align="center", text_baseline="middle",
                       text_font="Liberation Sans", text_font_style="bold", text_font_size="30px",
                       text_color="#1F3864"))

# text box
p.add_layout(BoxAnnotation(left=81.7, right=118.4, top=297.8, bottom=257.6, fill_color="white",
                           fill_alpha=1, line_color="black", line_alpha=1, line_width=2))
NOTE_LINES = ["Timeframe when Floc/Sed Flow", "Meter was inaccurate due to",
              "location of sulfuric acid feed line.", "Feed lines were moved on 12/13"]
NOTE_Y = [291.4, 282.7, 274.0, 265.3]
for t, yv in zip(NOTE_LINES, NOTE_Y):
    p.add_layout(Label(x=83.0, y=yv, text=t, text_align="left",
                       text_baseline="middle", text_font="Liberation Sans", text_font_size="29px",
                       text_color="black"))

# changed to 1000 BV
p.add_layout(Arrow(end=NormalHead(size=16, fill_color="#4472C4", line_color="#4472C4"),
                   x_start=109.7, y_start=128.4, x_end=123.8, y_end=128.4,
                   line_color="#4472C4", line_width=2))
p.add_layout(BoxAnnotation(left=110.2, right=132.9, top=122.1, bottom=112.5, fill_color="#DAE3F3",
                           fill_alpha=1, line_color=None, line_alpha=0))
p.add_layout(Label(x=121.6, y=117.3, text="Changed to 1000 BV", text_align="center", text_baseline="middle",
                   text_font="Liberation Sans", text_font_size="28px", text_color="black"))

# legend
legend = Legend(items=[LegendItem(label=LEGEND_LABELS[0], renderers=[r_f]),
                       LegendItem(label=LEGEND_LABELS[1], renderers=[r_s]),
                       LegendItem(label=LEGEND_LABELS[2], renderers=[r_c_leg]),
                       LegendItem(label=LEGEND_LABELS[3], renderers=[r_p])],
                orientation="horizontal", location=(567, 1295),
                glyph_width=36, glyph_height=40, label_standoff=10, spacing=30, padding=0, margin=0,
                border_line_color=None, background_fill_alpha=0,
                label_text_font="Open Sans", label_text_font_size="42px", label_text_color="black")
p.add_layout(legend)

open("out.html", "w").write(file_html(p, INLINE))
